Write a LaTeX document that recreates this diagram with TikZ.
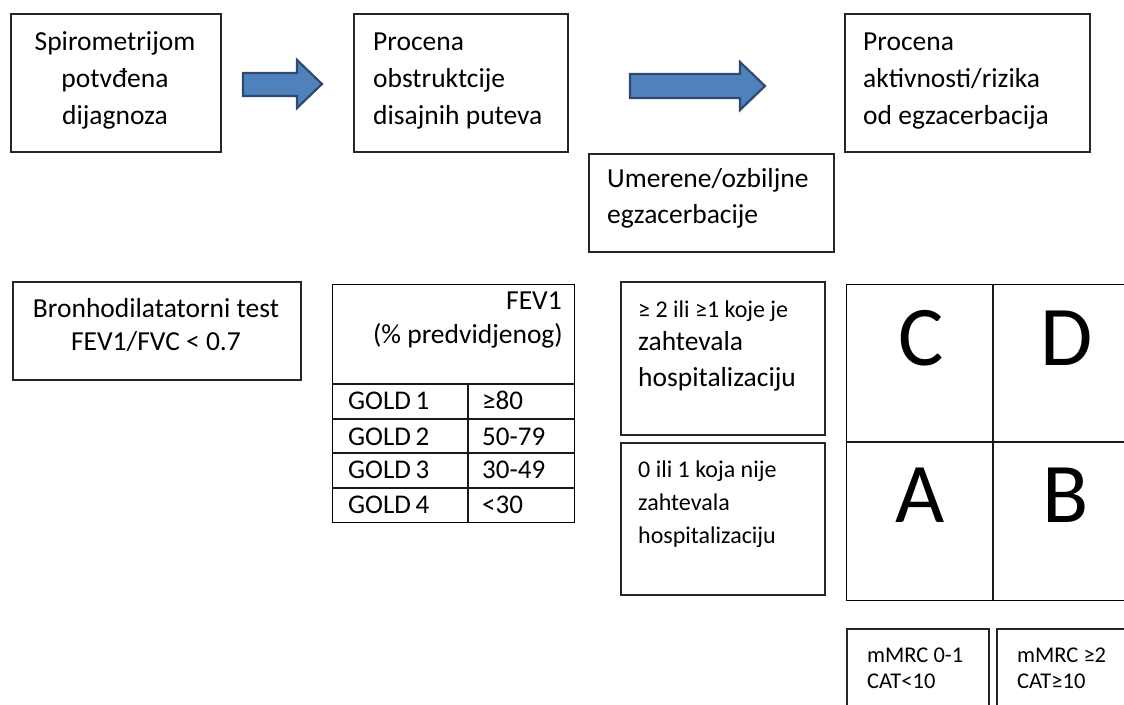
\documentclass[tikz,border=0pt]{standalone}
\usepackage{fontspec}
\setmainfont{Carlito}
\begin{document}
\begin{tikzpicture}[x=1pt,y=-1pt,
  box/.style={draw=black!85, line width=1.6pt, inner sep=0pt, anchor=north west},
  thin/.style={draw=black!90, line width=1.3pt},
  blockarrow/.style={fill={rgb,255:red,79;green,129;blue,189}, draw={rgb,255:red,47;green,74;blue,110}, line width=2.2pt, line join=miter},
  tl/.style={inner sep=0pt, anchor=base west, font=\fontsize{27.5}{30}\selectfont},
  tc/.style={inner sep=0pt, anchor=base, font=\fontsize{27.5}{30}\selectfont},
  tr/.style={inner sep=0pt, anchor=base east, font=\fontsize{27.5}{30}\selectfont},
  tab/.style={inner sep=0pt, anchor=base west, font=\fontsize{27}{30}\selectfont},
  sm/.style={inner sep=0pt, anchor=base west, font=\fontsize{24}{28}\selectfont},
  xs/.style={inner sep=0pt, anchor=base west, font=\fontsize{22.5}{26}\selectfont},
  big/.style={inner sep=0pt, anchor=base, font=\fontsize{85}{90}\selectfont}]
\useasboundingbox (0,0) rectangle (1124,704);
\clip (0,0) rectangle (1124,704);

% top row boxes
\node[box, minimum width=210pt, minimum height=138pt] (b1) at (10,13) {};
\node[box, minimum width=214pt, minimum height=138pt] (b2) at (353,13) {};
\node[box, minimum width=245pt, minimum height=138pt] (b3) at (844,13) {};
\node[box, minimum width=245pt, minimum height=98pt] (b4) at (588,153) {};

\node[tc] (t11) at (115,50) {Spirometrijom};
\node[tc] (t12) at (115,87) {potvđena};
\node[tc] (t13) at (115,124) {dijagnoza};

\node[tl] (t21) at (373,50) {Procena};
\node[tl] (t22) at (373,87) {obstruktcije};
\node[tl] (t23) at (373,124) {disajnih puteva};

\node[tl] (t31) at (863,50) {Procena};
\node[tl] (t32) at (863,87) {aktivnosti/rizika};
\node[tl] (t33) at (863,124) {od egzacerbacija};

\node[tl] (t41) at (607,187) {Umerene/ozbiljne};
\node[tl] (t42) at (607,223) {egzacerbacije};

% block arrows
\draw[blockarrow] (243,73) -- (297,73) -- (297,60) -- (322,84) -- (297,108) -- (297,96) -- (243,96) -- cycle;
\draw[blockarrow] (630,74) -- (740,74) -- (740,62) -- (765,86) -- (740,110) -- (740,98) -- (630,98) -- cycle;

% bronhodilatatorni test
\node[box, minimum width=288pt, minimum height=98pt] (b5) at (12,281) {};
\node[tc] (t51) at (156,317) {Bronhodilatatorni test};
\node[tc] (t52) at (156,350) {FEV1/FVC < 0.7};

% FEV1 table
\node[box, draw=black, line width=1.4pt, minimum width=242pt, minimum height=238pt] (tbl) at (332,284) {};
\draw[thin] (332,384) -- (574,384);
\draw[thin] (332,419) -- (574,419);
\draw[thin] (332,453) -- (574,453);
\draw[thin] (332,488) -- (574,488);
\draw[thin] (468,384) -- (468,522);
\node[tr] (th1) at (562,309) {FEV1};
\node[tr] (th2) at (563,343) {(\% predvidjenog)};
\node[tab] (g1) at (348,409) {GOLD\,1};
\node[tab] (g2) at (348,445) {GOLD\,2};
\node[tab] (g3) at (348,478) {GOLD\,3};
\node[tab] (g4) at (348,513) {GOLD\,4};
\node[tab] (v1) at (482,409) {≥80};
\node[tab] (v2) at (482,445) {50-79};
\node[tab] (v3) at (482,478) {30-49};
\node[tab] (v4) at (482,513) {<30};

% exacerbation boxes
\node[box, minimum width=204pt, minimum height=153pt] (b6) at (620,281) {};
\node[sm] (t61) at (638,317) {≥ 2 ili ≥1 koje je};
\node[tl] (t62) at (638,350) {zahtevala};
\node[tl] (t63) at (638,386) {hospitalizaciju};
\node[box, minimum width=204pt, minimum height=152pt] (b7) at (620,442) {};
\node[sm] (t71) at (638,477) {0 ili 1 koja nije};
\node[sm] (t72) at (638,510) {zahtevala};
\node[sm] (t73) at (638,543) {hospitalizaciju};

% ABCD grid
\node[box, draw=black, line width=1.4pt, minimum width=294pt, minimum height=316pt] (grid) at (846,284) {};
\draw[thin] (993,284) -- (993,600);
\draw[thin] (846,442) -- (1140,442);
\node[big] (lc) at (921,365) {C};
\node[big] (ld) at (1067,365) {D};
\node[big] (la) at (920,522) {A};
\node[big] (lb) at (1066,522) {B};

% mMRC boxes
\node[box, minimum width=142pt, minimum height=110pt] (m1) at (846,628) {};
\node[box, minimum width=142pt, minimum height=110pt] (m2) at (996,628) {};
\node[xs] (m11) at (867,662) {mMRC 0-1};
\node[xs] (m12) at (867,688) {CAT<10};
\node[xs] (m21) at (1017,662) {mMRC ≥2};
\node[xs] (m22) at (1017,688) {CAT≥10};
\end{tikzpicture}
\end{document}
